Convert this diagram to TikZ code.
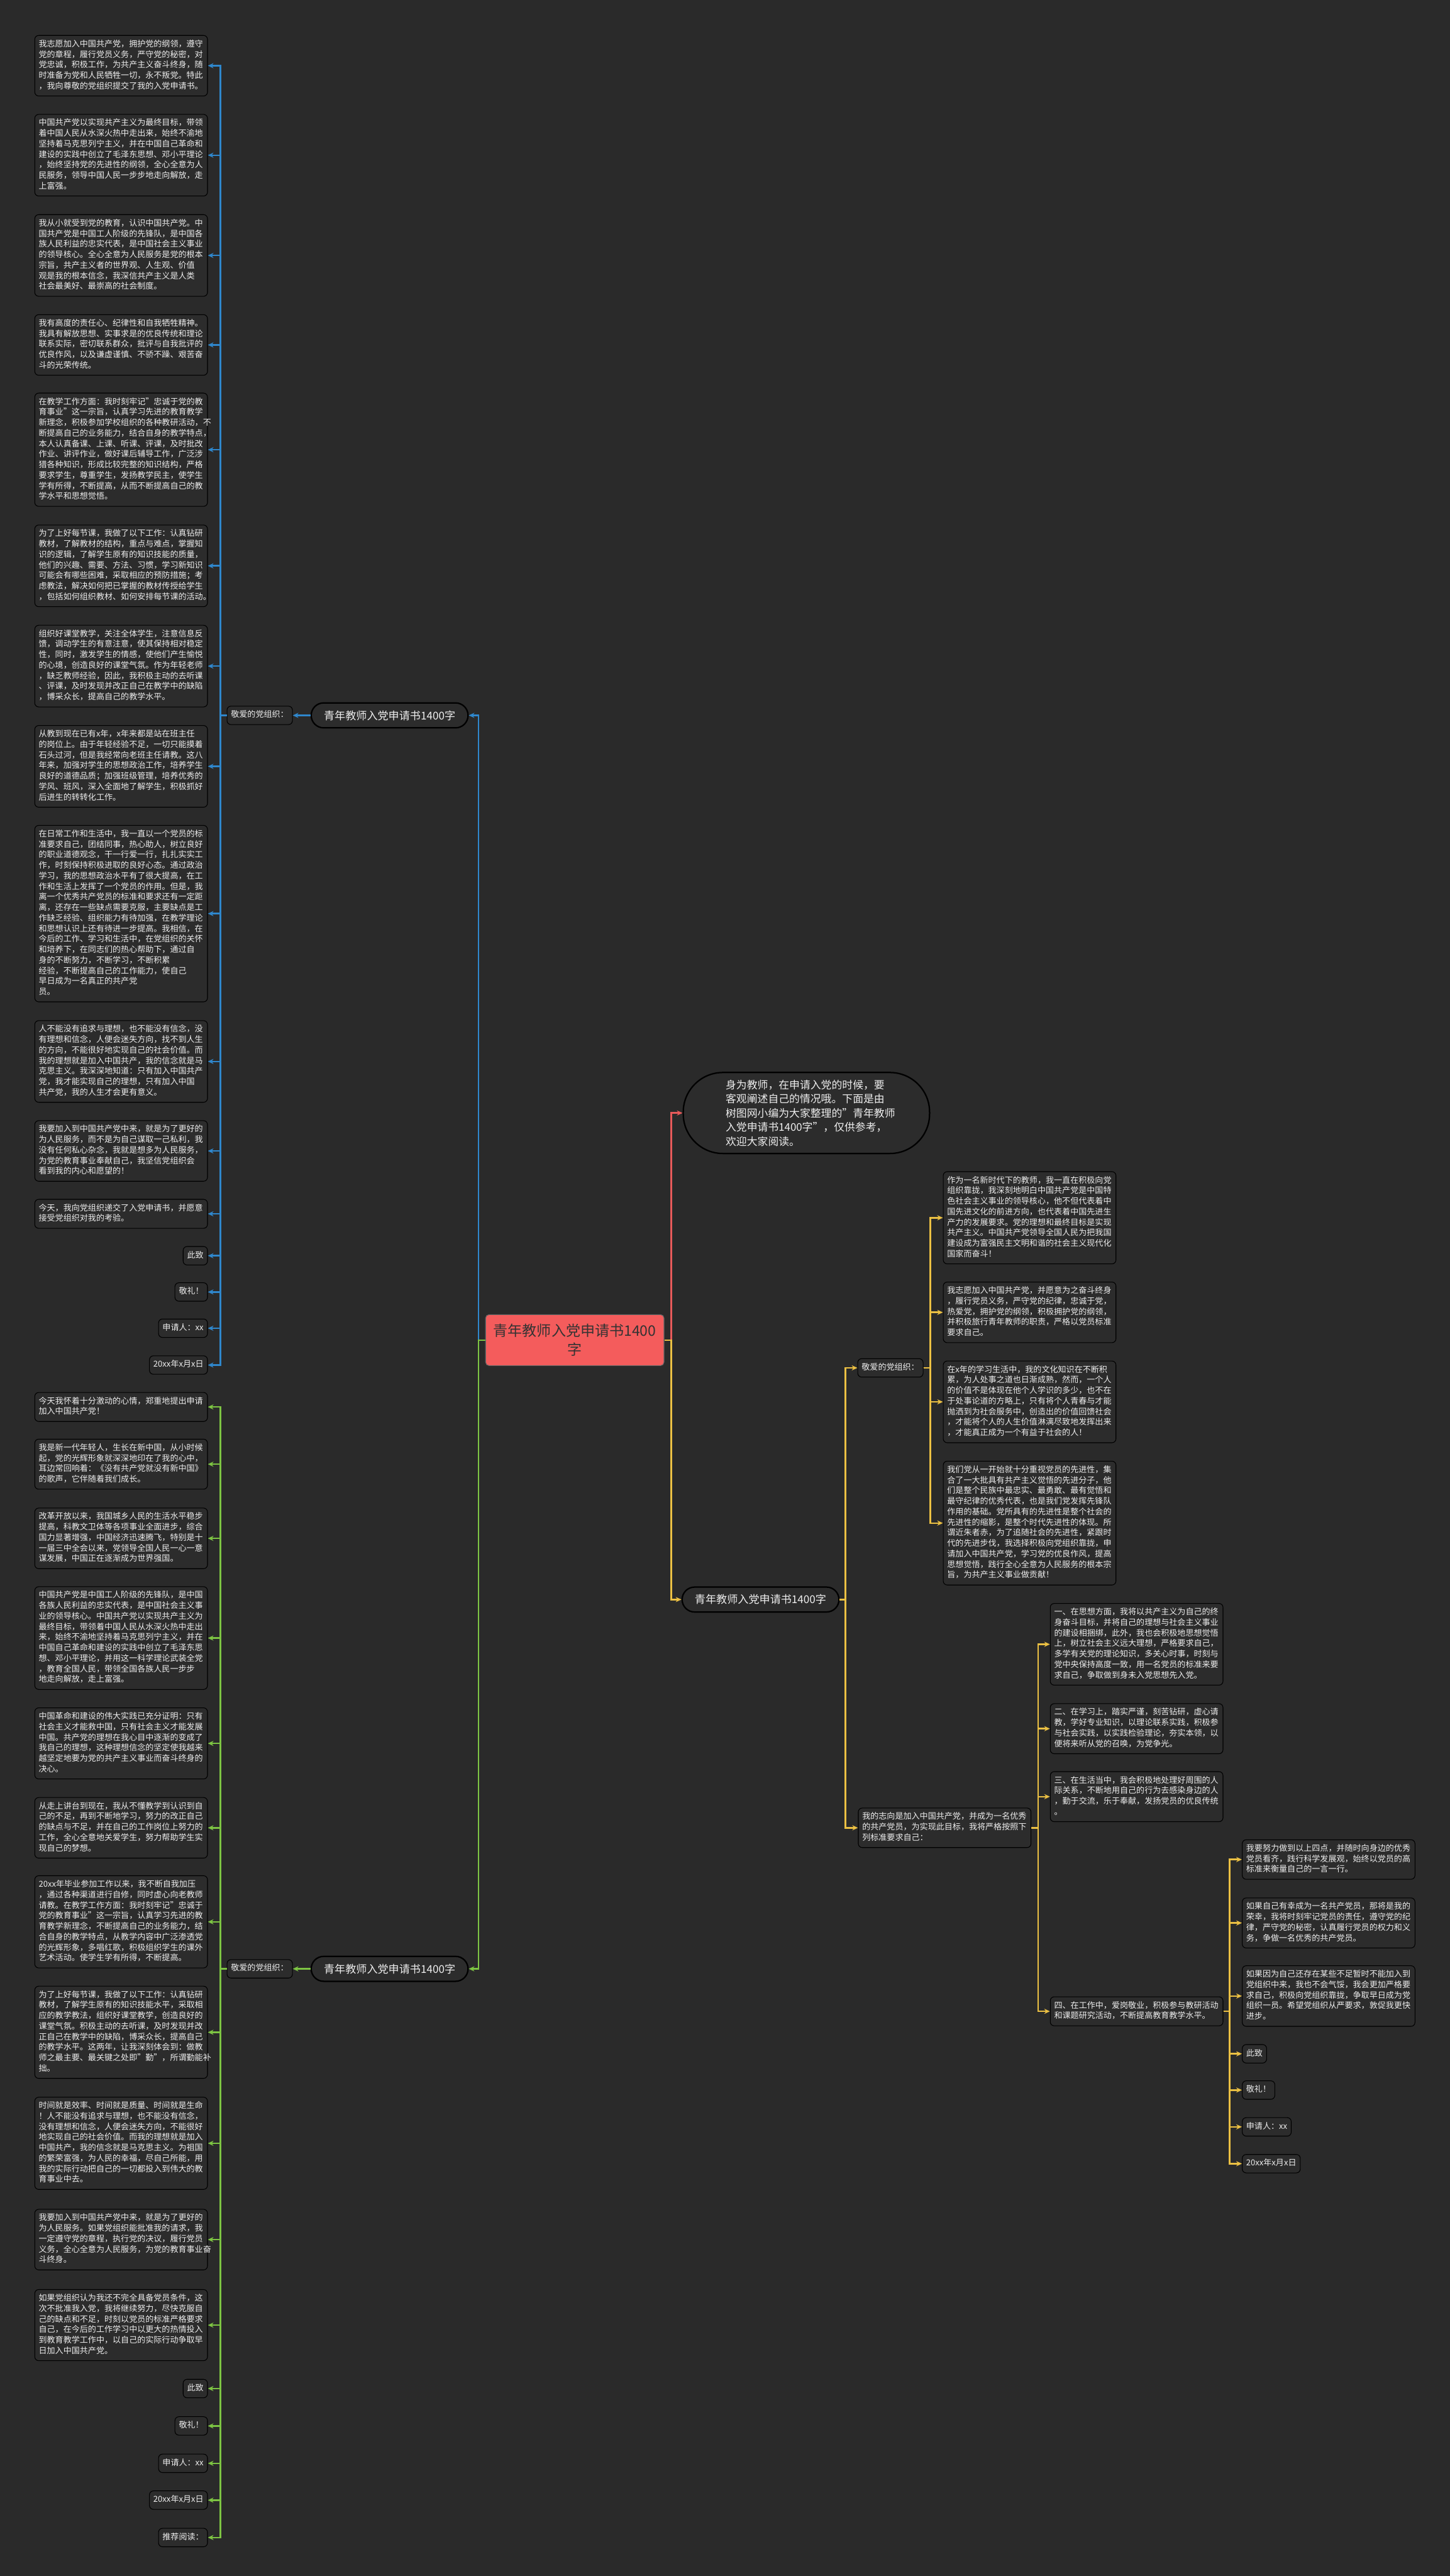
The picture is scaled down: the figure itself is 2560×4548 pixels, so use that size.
\documentclass[tikz,border=0pt]{standalone}
\usepackage{fontspec}
\setmainfont{Noto Sans CJK SC}
\usepackage{tikz}
\usetikzlibrary{arrows.meta,positioning}
\usepackage{xcolor}
\definecolor{bgc}{HTML}{2A2A2A}
\definecolor{boxc}{HTML}{2C2C2C}
\definecolor{txtc}{HTML}{EEEEEE}
\definecolor{bluec}{HTML}{2F87CC}
\definecolor{greenc}{HTML}{7DC443}
\definecolor{yelc}{HTML}{EBC043}
\definecolor{redc}{HTML}{E85A5A}
\definecolor{rootc}{HTML}{F45C5C}

\begin{document}
\begin{tikzpicture}[x=1pt,y=-1pt,>={Stealth[length=10pt,width=9pt]},
  box/.style={draw=black, line width=1.2pt, fill=boxc, rounded corners=7pt, text=txtc,
    font=\fontsize{14.5}{18.6}\selectfont, inner xsep=7pt, inner ysep=7pt,
    execute at begin node=\strut, execute at end node=\strut},
  wbox/.style={box, text width=291pt, align=left},
  topic/.style={draw=black, line width=2.5pt, fill=boxc, rounded corners=22pt, text=txtc,
    minimum width=277pt, minimum height=44pt, font=\fontsize{19}{22}\selectfont},
  conn/.style={line width=2.8pt, ->},
  bl/.style={conn, draw=bluec},
  gr/.style={conn, draw=greenc},
  yl/.style={conn, draw=yelc},
  rd/.style={conn, draw=redc}]

\fill[bgc] (0,0) rectangle (2560,4548);
\useasboundingbox (0,0) rectangle (2560,4548);

% centre
\node[fill=rootc, draw=black!60, line width=1.2pt, rounded corners=6pt, minimum width=315pt,
  minimum height=90pt, text width=300pt, align=center, text=black!80,
  font=\fontsize{25.6}{33}\selectfont] (root) at (1015,2366) {青年教师入党申请书1400\\字};

\node[draw=black, line width=2.5pt, fill=boxc, rounded corners=70pt, minimum width=435pt,
  minimum height=143pt, text width=285pt, align=left, text=txtc,
  font=\fontsize{18.7}{25}\selectfont] (intro) at (1424,1965)
  {身为教师，在申请入党的时候，要\\客观阐述自己的情况哦。下面是由\\树图网小编为大家整理的"青年教师\\入党申请书1400字"，仅供参考，\\欢迎大家阅读。};

\node[topic] (t1) at (688,1263) {青年教师入党申请书1400字};
\node[topic] (t2) at (688,3476) {青年教师入党申请书1400字};
\node[topic] (t3) at (1343,2824) {青年教师入党申请书1400字};

\node[box, anchor=east] (lab1) at (517,1263) {敬爱的党组织：};
\node[box, anchor=east] (lab2) at (517,3476) {敬爱的党组织：};
\node[box, anchor=west] (lab3) at (1514,2415) {敬爱的党组织：};

% left, blue
\node[wbox, anchor=east] (a1) at (367,116) {我志愿加入中国共产党，拥护党的纲领，遵守\\党的章程，履行党员义务，严守党的秘密，对\\党忠诚，积极工作，为共产主义奋斗终身，随\\时准备为党和人民牺牲一切，永不叛党。特此\\，我向尊敬的党组织提交了我的入党申请书。};
\node[wbox, anchor=east] (a2) at (367,274) {中国共产党以实现共产主义为最终目标，带领\\着中国人民从水深火热中走出来，始终不渝地\\坚持着马克思列宁主义，并在中国自己革命和\\建设的实践中创立了毛泽东思想、邓小平理论\\，始终坚持党的先进性的纲领，全心全意为人\\民服务，领导中国人民一步步地走向解放，走\\上富强。};
\node[wbox, anchor=east] (a3) at (367,451) {我从小就受到党的教育，认识中国共产党。中\\国共产党是中国工人阶级的先锋队，是中国各\\族人民利益的忠实代表，是中国社会主义事业\\的领导核心。全心全意为人民服务是党的根本\\宗旨，共产主义者的世界观、人生观、价值\\观是我的根本信念，我深信共产主义是人类\\社会最美好、最崇高的社会制度。};
\node[wbox, anchor=east] (a4) at (367,609) {我有高度的责任心、纪律性和自我牺牲精神。\\我具有解放思想、实事求是的优良传统和理论\\联系实际，密切联系群众，批评与自我批评的\\优良作风，以及谦虚谨慎、不骄不躁、艰苦奋\\斗的光荣传统。};
\node[wbox, anchor=east] (a5) at (367,794) {在教学工作方面：我时刻牢记"忠诚于党的教\\育事业"这一宗旨，认真学习先进的教育教学\\新理念，积极参加学校组织的各种教研活动，不\\断提高自己的业务能力，结合自身的教学特点，\\本人认真备课、上课、听课、评课，及时批改\\作业、讲评作业，做好课后辅导工作，广泛涉\\猎各种知识，形成比较完整的知识结构，严格\\要求学生，尊重学生，发扬教学民主，使学生\\学有所得，不断提高，从而不断提高自己的教\\学水平和思想觉悟。};
\node[wbox, anchor=east] (a6) at (367,999) {为了上好每节课，我做了以下工作：认真钻研\\教材，了解教材的结构，重点与难点，掌握知\\识的逻辑，了解学生原有的知识技能的质量，\\他们的兴趣、需要、方法、习惯，学习新知识\\可能会有哪些困难，采取相应的预防措施；考\\虑教法，解决如何把已掌握的教材传授给学生\\，包括如何组织教材、如何安排每节课的活动。};
\node[wbox, anchor=east] (a7) at (367,1176) {组织好课堂教学，关注全体学生，注意信息反\\馈，调动学生的有意注意，使其保持相对稳定\\性，同时，激发学生的情感，使他们产生愉悦\\的心境，创造良好的课堂气氛。作为年轻老师\\，缺乏教师经验，因此，我积极主动的去听课\\、评课，及时发现并改正自己在教学中的缺陷\\，博采众长，提高自己的教学水平。};
\node[wbox, anchor=east] (a8) at (367,1353) {从教到现在已有x年，x年来都是站在班主任\\的岗位上。由于年轻经验不足，一切只能摸着\\石头过河，但是我经常向老班主任请教。这八\\年来，加强对学生的思想政治工作，培养学生\\良好的道德品质；加强班级管理，培养优秀的\\学风、班风，深入全面地了解学生，积极抓好\\后进生的转转化工作。};
\node[wbox, anchor=east] (a9) at (367,1613) {在日常工作和生活中，我一直以一个党员的标\\准要求自己，团结同事，热心助人，树立良好\\的职业道德观念，干一行爱一行，扎扎实实工\\作，时刻保持积极进取的良好心态。通过政治\\学习，我的思想政治水平有了很大提高，在工\\作和生活上发挥了一个党员的作用。但是，我\\离一个优秀共产党员的标准和要求还有一定距\\离，还存在一些缺点需要克服，主要缺点是工\\作缺乏经验、组织能力有待加强，在教学理论\\和思想认识上还有待进一步提高。我相信，在\\今后的工作、学习和生活中，在党组织的关怀\\和培养下，在同志们的热心帮助下，通过自\\身的不断努力，不断学习，不断积累\\经验，不断提高自己的工作能力，使自己\\早日成为一名真正的共产党\\员。};
\node[wbox, anchor=east] (a10) at (367,1874) {人不能没有追求与理想，也不能没有信念，没\\有理想和信念，人便会迷失方向，找不到人生\\的方向，不能很好地实现自己的社会价值。而\\我的理想就是加入中国共产，我的信念就是马\\克思主义。我深深地知道：只有加入中国共产\\党，我才能实现自己的理想，只有加入中国\\共产党，我的人生才会更有意义。};
\node[wbox, anchor=east] (a11) at (367,2032) {我要加入到中国共产党中来，就是为了更好的\\为人民服务，而不是为自己谋取一己私利，我\\没有任何私心杂念，我就是想多为人民服务，\\为党的教育事业奉献自己，我坚信党组织会\\看到我的内心和愿望的！};
\node[wbox, anchor=east] (a12) at (367,2143) {今天，我向党组织递交了入党申请书，并愿意\\接受党组织对我的考验。};
\node[box, anchor=east] (a13) at (367,2217) {此致};
\node[box, anchor=east] (a14) at (367,2281) {敬礼！};
\node[box, anchor=east] (a15) at (367,2345) {申请人：xx};
\node[box, anchor=east] (a16) at (367,2410) {20xx年x月x日};

% left, green
\node[wbox, anchor=east] (g1) at (367,2484) {今天我怀着十分激动的心情，郑重地提出申请\\加入中国共产党！};
\node[wbox, anchor=east] (g2) at (367,2585) {我是新一代年轻人，生长在新中国，从小时候\\起，党的光辉形象就深深地印在了我的心中，\\耳边常回响着：《没有共产党就没有新中国》\\的歌声，它伴随着我们成长。};
\node[wbox, anchor=east] (g3) at (367,2716) {改革开放以来，我国城乡人民的生活水平稳步\\提高，科教文卫体等各项事业全面进步，综合\\国力显著增强，中国经济迅速腾飞，特别是十\\一届三中全会以来，党领导全国人民一心一意\\谋发展，中国正在逐渐成为世界强国。};
\node[wbox, anchor=east] (g4) at (367,2892) {中国共产党是中国工人阶级的先锋队，是中国\\各族人民利益的忠实代表，是中国社会主义事\\业的领导核心。中国共产党以实现共产主义为\\最终目标，带领着中国人民从水深火热中走出\\来，始终不渝地坚持着马克思列宁主义，并在\\中国自己革命和建设的实践中创立了毛泽东思\\想、邓小平理论，并用这一科学理论武装全党\\，教育全国人民，带领全国各族人民一步步\\地走向解放，走上富强。};
\node[wbox, anchor=east] (g5) at (367,3078) {中国革命和建设的伟大实践已充分证明：只有\\社会主义才能救中国，只有社会主义才能发展\\中国。共产党的理想在我心目中逐渐的变成了\\我自己的理想，这种理想信念的坚定使我越来\\越坚定地要为党的共产主义事业而奋斗终身的\\决心。};
\node[wbox, anchor=east] (g6) at (367,3227) {从走上讲台到现在，我从不懂教学到认识到自\\己的不足，再到不断地学习，努力的改正自己\\的缺点与不足，并在自己的工作岗位上努力的\\工作，全心全意地关爱学生，努力帮助学生实\\现自己的梦想。};
\node[wbox, anchor=east] (g7) at (367,3393) {20xx年毕业参加工作以来，我不断自我加压\\，通过各种渠道进行自修，同时虚心向老教师\\请教。在教学工作方面：我时刻牢记"忠诚于\\党的教育事业"这一宗旨，认真学习先进的教\\育教学新理念，不断提高自己的业务能力，结\\合自身的教学特点，从教学内容中广泛渗透党\\的光辉形象，多唱红歌，积极组织学生的课外\\艺术活动。使学生学有所得，不断提高。};
\node[wbox, anchor=east] (g8) at (367,3588) {为了上好每节课，我做了以下工作：认真钻研\\教材，了解学生原有的知识技能水平，采取相\\应的教学教法，组织好课堂教学，创造良好的\\课堂气氛。积极主动的去听课，及时发现并改\\正自己在教学中的缺陷，博采众长，提高自己\\的教学水平。这两年，让我深刻体会到：做教\\师之最主要、最关键之处即"勤"，所谓勤能补\\拙。};
\node[wbox, anchor=east] (g9) at (367,3784) {时间就是效率、时间就是质量、时间就是生命\\！人不能没有追求与理想，也不能没有信念，\\没有理想和信念，人便会迷失方向，不能很好\\地实现自己的社会价值。而我的理想就是加入\\中国共产，我的信念就是马克思主义。为祖国\\的繁荣富强，为人民的幸福，尽自己所能，用\\我的实际行动把自己的一切都投入到伟大的教\\育事业中去。};
\node[wbox, anchor=east] (g10) at (367,3954) {我要加入到中国共产党中来，就是为了更好的\\为人民服务。如果党组织能批准我的请求，我\\一定遵守党的章程，执行党的决议，履行党员\\义务，全心全意为人民服务，为党的教育事业奋\\斗终身。};
\node[wbox, anchor=east] (g11) at (367,4105) {如果党组织认为我还不完全具备党员条件，这\\次不批准我入党，我将继续努力，尽快克服自\\己的缺点和不足，时刻以党员的标准严格要求\\自己，在今后的工作学习中以更大的热情投入\\到教育教学工作中，以自己的实际行动争取早\\日加入中国共产党。};
\node[box, anchor=east] (g12) at (367,4217) {此致};
\node[box, anchor=east] (g13) at (367,4283) {敬礼！};
\node[box, anchor=east] (g14) at (367,4349) {申请人：xx};
\node[box, anchor=east] (g15) at (367,4414) {20xx年x月x日};
\node[box, anchor=east] (g16) at (367,4480) {推荐阅读：};

% right, yellow
\node[wbox, anchor=west] (r1) at (1665,2150) {作为一名新时代下的教师，我一直在积极向党\\组织靠拢，我深刻地明白中国共产党是中国特\\色社会主义事业的领导核心，他不但代表着中\\国先进文化的前进方向，也代表着中国先进生\\产力的发展要求。党的理想和最终目标是实现\\共产主义。中国共产党领导全国人民为把我国\\建设成为富强民主文明和谐的社会主义现代化\\国家而奋斗！};
\node[wbox, anchor=west] (r2) at (1665,2317) {我志愿加入中国共产党，并愿意为之奋斗终身\\，履行党员义务，严守党的纪律，忠诚于党，\\热爱党，拥护党的纲领，积极拥护党的纲领，\\并积极旅行青年教师的职责，严格以党员标准\\要求自己。};
\node[wbox, anchor=west] (r3) at (1665,2475) {在x年的学习生活中，我的文化知识在不断积\\累，为人处事之道也日渐成熟，然而，一个人\\的价值不是体现在他个人学识的多少，也不在\\于处事论道的方略上，只有将个人青春与才能\\抛洒到为社会服务中，创造出的价值回馈社会\\，才能将个人的人生价值淋漓尽致地发挥出来\\，才能真正成为一个有益于社会的人！};
\node[wbox, anchor=west] (r4) at (1665,2689) {我们党从一开始就十分重视党员的先进性，集\\合了一大批具有共产主义觉悟的先进分子，他\\们是整个民族中最忠实、最勇敢、最有觉悟和\\最守纪律的优秀代表，也是我们党发挥先锋队\\作用的基础。党所具有的先进性是整个社会的\\先进性的缩影，是整个时代先进性的体现。所\\谓近朱者赤，为了追随社会的先进性，紧跟时\\代的先进步伐，我选择积极向党组织靠拢，申\\请加入中国共产党，学习党的优良作风，提高\\思想觉悟，践行全心全意为人民服务的根本宗\\旨，为共产主义事业做贡献！};

\node[wbox, anchor=west] (goal) at (1515,3227) {我的志向是加入中国共产党，并成为一名优秀\\的共产党员，为实现此目标，我将严格按照下\\列标准要求自己：};

\node[wbox, anchor=west] (s1) at (1854,2903) {一、在思想方面，我将以共产主义为自己的终\\身奋斗目标，并将自己的理想与社会主义事业\\的建设相捆绑，此外，我也会积极地思想觉悟\\上，树立社会主义远大理想，严格要求自己，\\多学有关党的理论知识，多关心时事，时刻与\\党中央保持高度一致，用一名党员的标准来要\\求自己，争取做到身未入党思想先入党。};
\node[wbox, anchor=west] (s2) at (1854,3052) {二、在学习上，踏实严谨，刻苦钻研，虚心请\\教，学好专业知识，以理论联系实践，积极参\\与社会实践，以实践检验理论，夯实本领，以\\便将来听从党的召唤，为党争光。};
\node[wbox, anchor=west] (s3) at (1854,3172) {三、在生活当中，我会积极地处理好周围的人\\际关系，不断地用自己的行为去感染身边的人\\，勤于交流，乐于奉献，发扬党员的优良传统\\。};
\node[wbox, anchor=west] (s4) at (1854,3551) {四、在工作中，爱岗敬业，积极参与教研活动\\和课题研究活动，不断提高教育教学水平。};

\node[wbox, anchor=west] (u1) at (2193,3283) {我要努力做到以上四点，并随时向身边的优秀\\党员看齐，践行科学发展观，始终以党员的高\\标准来衡量自己的一言一行。};
\node[wbox, anchor=west] (u2) at (2193,3395) {如果自己有幸成为一名共产党员，那将是我的\\荣幸，我将时刻牢记党员的责任，遵守党的纪\\律，严守党的秘密，认真履行党员的权力和义\\务，争做一名优秀的共产党员。};
\node[wbox, anchor=west] (u3) at (2193,3524) {如果因为自己还存在某些不足暂时不能加入到\\党组织中来，我也不会气馁，我会更加严格要\\求自己，积极向党组织靠拢，争取早日成为党\\组织一员。希望党组织从严要求，敦促我更快\\进步。};
\node[box, anchor=west] (u4) at (2193,3626) {此致};
\node[box, anchor=west] (u5) at (2193,3690) {敬礼！};
\node[box, anchor=west] (u6) at (2193,3755) {申请人：xx};
\node[box, anchor=west] (u7) at (2193,3820) {20xx年x月x日};

% connectors
\draw[bl] (root.west) -- ++(-12,0) |- (t1.east);
\draw[gr] (root.west) -- ++(-12,0) |- (t2.east);
\draw[rd] (root.east) -- ++(12,0) |- (intro.west);
\draw[yl] (root.east) -- ++(12,0) |- (t3.west);
\draw[bl] (t1.west) -- (lab1.east);
\draw[gr] (t2.west) -- (lab2.east);
\foreach \n in {a1,a2,a3,a4,a5,a6,a7,a8,a9,a10,a11,a12,a13,a14,a15,a16}
  \draw[bl] (lab1.west) -- ++(-11,0) |- (\n.east);
\foreach \n in {g1,g2,g3,g4,g5,g6,g7,g8,g9,g10,g11,g12,g13,g14,g15,g16}
  \draw[gr] (lab2.west) -- ++(-11,0) |- (\n.east);
\draw[yl] (t3.east) -- ++(10,0) |- (lab3.west);
\draw[yl] (t3.east) -- ++(10,0) |- (goal.west);
\foreach \n in {r1,r2,r3,r4}
  \draw[yl] (lab3.east) -- ++(12,0) |- (\n.west);
\foreach \n in {s1,s2,s3,s4}
  \draw[yl] (goal.east) -- ++(12,0) |- (\n.west);
\foreach \n in {u1,u2,u3,u4,u5,u6,u7}
  \draw[yl] (s4.east) -- ++(11,0) |- (\n.west);
\end{tikzpicture}
\end{document}
